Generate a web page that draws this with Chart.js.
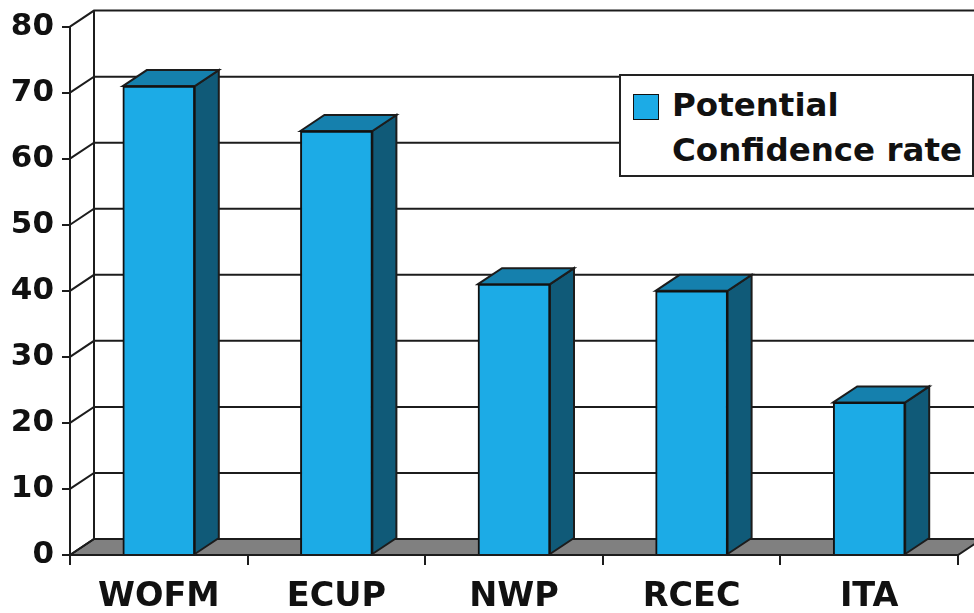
<!DOCTYPE html>
<html>
<head>
<meta charset="utf-8">
<script src="https://cdn.jsdelivr.net/npm/chart.js@4/dist/chart.umd.min.js"></script>
<style>
    html, body { margin: 0; padding: 0; background: #fff; }
    #wrap { position: relative; width: 974px; height: 613px; overflow: hidden; }
    #legend {
        position: absolute; left: 619px; top: 74px; width: 351px; height: 99px;
        background: #fff; border: 2px solid #222;
        font: bold 32.5px "DejaVu Sans", sans-serif; color: #111;
    }
    #legend .row { position: absolute; left: 51px; white-space: nowrap; line-height: 36px; }
    #legend .swatch {
        position: absolute; left: 12px; top: 18px; width: 24px; height: 24px;
        background: #1cabe6; border: 1px solid #111;
    }
</style>
</head>
<body>
<div id="wrap">
    <canvas id="chart" width="974" height="613"></canvas>
    <div id="legend"></div>
</div>
<script>
// Chart data
const categories = ['WOFM', 'ECUP', 'NWP', 'RCEC', 'ITA'];
const potential = [71, 64.2, 41, 40, 23.1];
const yTicks = [0, 10, 20, 30, 40, 50, 60, 70, 80];
const legendLabels = ['Potential', 'Confidence rate'];

// 3D look
const depthX = 24;
const depthY = -16;
const lineColor = '#1c1c1c';

function polygon(ctx, points, fill) {
    ctx.beginPath();
    points.forEach((p, i) => i ? ctx.lineTo(p[0], p[1]) : ctx.moveTo(p[0], p[1]));
    ctx.closePath();
    ctx.fillStyle = fill;
    ctx.fill();
    ctx.stroke();
}

// Draws the walls, the floor and the sides of the bars
const box3d = {
    id: 'box3d',
    beforeDatasetsDraw(chart) {
        const ctx = chart.ctx;
        const area = chart.chartArea;
        const y = chart.scales.y;
        ctx.save();
        ctx.strokeStyle = lineColor;
        ctx.lineWidth = 2;

        // floor
        polygon(ctx, [
            [area.left, area.bottom],
            [area.left + depthX, area.bottom + depthY],
            [area.right + depthX, area.bottom + depthY],
            [area.right, area.bottom]
        ], '#808080');

        // grid lines on the back wall and the slanted ones on the left wall
        yTicks.forEach(v => {
            const py = y.getPixelForValue(v);
            ctx.beginPath();
            ctx.moveTo(area.left, py);
            ctx.lineTo(area.left + depthX, py + depthY);
            ctx.lineTo(area.right + depthX, py + depthY);
            ctx.stroke();
        });

        // back wall left edge
        ctx.beginPath();
        ctx.moveTo(area.left + depthX, area.top + depthY);
        ctx.lineTo(area.left + depthX, area.bottom + depthY);
        ctx.stroke();

        // bar side and top
        chart.getDatasetMeta(0).data.forEach(bar => {
            const left = bar.x - bar.width / 2;
            const right = bar.x + bar.width / 2;
            polygon(ctx, [
                [right, bar.y],
                [right + depthX, bar.y + depthY],
                [right + depthX, bar.base + depthY],
                [right, bar.base]
            ], '#105a78');
            polygon(ctx, [
                [left, bar.y],
                [left + depthX, bar.y + depthY],
                [right + depthX, bar.y + depthY],
                [right, bar.y]
            ], '#1580ad');
        });
        ctx.restore();
    }
};

const chart = new Chart(document.getElementById('chart').getContext('2d'), {
    type: 'bar',
    data: {
        labels: categories,
        datasets: [{
            label: legendLabels[0],
            data: potential,
            backgroundColor: '#1cabe6',
            borderColor: '#111',
            borderWidth: 2,
            barThickness: 72
        }]
    },
    options: {
        responsive: false,
        animation: false,
        layout: {
            padding: { top: 25, right: 16, left: 0, bottom: 0 }
        },
        plugins: {
            legend: { display: false },
            tooltip: { enabled: false }
        },
        scales: {
            x: {
                afterFit: scale => { scale.height = 58; },
                border: { color: lineColor, width: 2 },
                grid: { drawOnChartArea: false, color: lineColor, lineWidth: 2, tickLength: 10 },
                ticks: {
                    color: '#111',
                    padding: 12,
                    maxRotation: 0,
                    font: { family: '"DejaVu Sans"', size: 33.5, weight: 'bold' }
                }
            },
            y: {
                min: 0,
                max: 80,
                afterFit: scale => { scale.width = 70; },
                afterBuildTicks: scale => { scale.ticks = yTicks.map(v => ({ value: v })); },
                border: { color: lineColor, width: 2 },
                grid: { drawOnChartArea: false, color: lineColor, lineWidth: 2, tickLength: 8 },
                ticks: {
                    color: '#111',
                    padding: 8,
                    font: { family: '"DejaVu Sans"', size: 31, weight: 'bold' }
                }
            }
        }
    },
    plugins: [box3d]
});

// Legend
const legend = document.getElementById('legend');
legend.innerHTML = '<div class="swatch"></div>' + legendLabels.map((text, i) =>
    `<div class="row" style="top:${11 + i * 45}px">${text}</div>`).join('');
</script>
</body>
</html>
